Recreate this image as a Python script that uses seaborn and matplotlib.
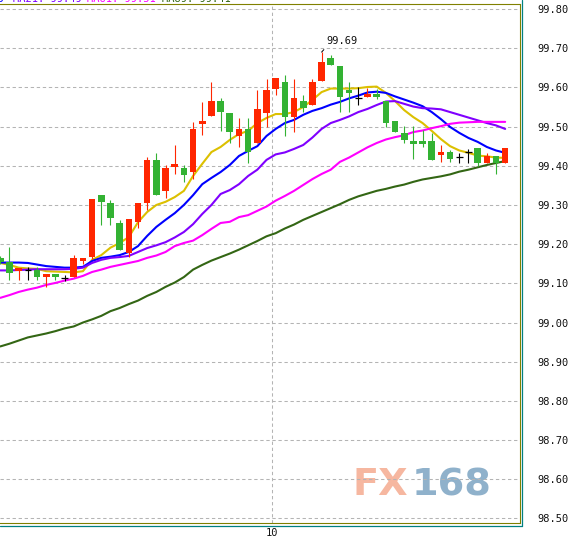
import numpy as np
import pandas as pd
import matplotlib
matplotlib.use("Agg")
import matplotlib.pyplot as plt
from matplotlib.lines import Line2D
import seaborn as sns

# ---------------------------------------------------------------- candles
opens = [99.165, 99.155, 99.132, 99.134, 99.134, 99.117, 99.124, 99.114, 99.117, 99.158,
         99.168, 99.325, 99.304, 99.254, 99.177, 99.257, 99.306, 99.415, 99.336, 99.398,
         99.394, 99.384, 99.507, 99.528, 99.565, 99.535, 99.477, 99.494, 99.457, 99.534,
         99.597, 99.614, 99.525, 99.566, 99.555, 99.617, 99.675, 99.655, 99.593, 99.574,
         99.576, 99.583, 99.566, 99.514, 99.483, 99.463, 99.463, 99.463, 99.428, 99.435,
         99.423, 99.434, 99.445, 99.408, 99.425, 99.408]
highs = [99.170, 99.193, 99.140, 99.141, 99.141, 99.124, 99.124, 99.120, 99.172, 99.165,
         99.315, 99.325, 99.313, 99.262, 99.264, 99.304, 99.422, 99.432, 99.401, 99.453,
         99.401, 99.512, 99.563, 99.614, 99.573, 99.535, 99.522, 99.522, 99.593, 99.621,
         99.624, 99.632, 99.621, 99.581, 99.621, 99.690, 99.683, 99.655, 99.614, 99.602,
         99.598, 99.596, 99.566, 99.514, 99.501, 99.501, 99.491, 99.483, 99.453, 99.440,
         99.432, 99.442, 99.445, 99.433, 99.425, 99.445]
lows = [99.150, 99.108, 99.108, 99.108, 99.108, 99.090, 99.108, 99.107, 99.117, 99.149,
        99.161, 99.249, 99.249, 99.185, 99.168, 99.240, 99.287, 99.325, 99.318, 99.379,
        99.359, 99.367, 99.478, 99.528, 99.489, 99.459, 99.448, 99.408, 99.457, 99.498,
        99.580, 99.477, 99.487, 99.536, 99.555, 99.617, 99.658, 99.538, 99.538, 99.555,
        99.576, 99.570, 99.500, 99.487, 99.457, 99.417, 99.449, 99.415, 99.410, 99.410,
        99.406, 99.406, 99.399, 99.408, 99.379, 99.408]
closes = [99.155, 99.127, 99.140, 99.134, 99.117, 99.124, 99.116, 99.114, 99.165, 99.165,
          99.315, 99.308, 99.267, 99.185, 99.264, 99.304, 99.415, 99.325, 99.394, 99.404,
          99.377, 99.494, 99.514, 99.565, 99.538, 99.487, 99.494, 99.436, 99.545, 99.593,
          99.624, 99.525, 99.573, 99.548, 99.614, 99.665, 99.658, 99.576, 99.586, 99.574,
          99.583, 99.576, 99.508, 99.487, 99.466, 99.456, 99.456, 99.415, 99.435, 99.417,
          99.423, 99.434, 99.408, 99.425, 99.408, 99.445]

# -------------------------------------------------------- moving averages
ma5 = [99.152, 99.147, 99.140, 99.138, 99.137, 99.131, 99.130, 99.129, 99.128, 99.131,
       99.160, 99.172, 99.191, 99.203, 99.218, 99.256, 99.282, 99.300, 99.308, 99.320,
       99.336, 99.374, 99.405, 99.435, 99.448, 99.466, 99.481, 99.489, 99.509, 99.522,
       99.532, 99.532, 99.537, 99.550, 99.568, 99.588, 99.597, 99.597, 99.597, 99.598,
       99.601, 99.602, 99.586, 99.565, 99.542, 99.524, 99.509, 99.489, 99.468, 99.450,
       99.439, 99.433, 99.426, 99.424, 99.421, 99.420]
ma10 = [99.153, 99.153, 99.153, 99.152, 99.148, 99.144, 99.142, 99.140, 99.140, 99.142,
        99.157, 99.165, 99.168, 99.172, 99.180, 99.195, 99.221, 99.244, 99.262, 99.279,
        99.300, 99.325, 99.353, 99.369, 99.384, 99.402, 99.425, 99.438, 99.450, 99.476,
        99.494, 99.509, 99.517, 99.530, 99.540, 99.547, 99.556, 99.563, 99.572, 99.579,
        99.587, 99.589, 99.586, 99.577, 99.569, 99.561, 99.552, 99.537, 99.519, 99.499,
        99.484, 99.471, 99.461, 99.448, 99.439, 99.433]
ma21 = [99.133, 99.133, 99.134, 99.135, 99.136, 99.136, 99.136, 99.136, 99.137, 99.140,
        99.152, 99.160, 99.165, 99.167, 99.170, 99.180, 99.190, 99.197, 99.205, 99.217,
        99.231, 99.251, 99.277, 99.300, 99.328, 99.338, 99.353, 99.374, 99.390, 99.415,
        99.429, 99.434, 99.443, 99.453, 99.472, 99.494, 99.509, 99.517, 99.526, 99.537,
        99.545, 99.555, 99.564, 99.565, 99.558, 99.551, 99.547, 99.546, 99.544, 99.537,
        99.530, 99.523, 99.516, 99.509, 99.503, 99.494]
ma61 = [99.063, 99.070, 99.078, 99.084, 99.089, 99.096, 99.101, 99.107, 99.112, 99.119,
        99.129, 99.135, 99.142, 99.147, 99.152, 99.157, 99.165, 99.171, 99.180, 99.195,
        99.203, 99.209, 99.223, 99.239, 99.254, 99.257, 99.269, 99.274, 99.285, 99.296,
        99.311, 99.323, 99.336, 99.351, 99.366, 99.379, 99.390, 99.410, 99.421, 99.434,
        99.447, 99.458, 99.467, 99.473, 99.478, 99.486, 99.490, 99.496, 99.501, 99.507,
        99.510, 99.511, 99.512, 99.512, 99.512, 99.512]
ma89 = [98.939, 98.946, 98.954, 98.962, 98.967, 98.972, 98.978, 98.985, 98.990, 99.000,
        99.008, 99.017, 99.029, 99.037, 99.047, 99.056, 99.068, 99.078, 99.091, 99.102,
        99.116, 99.135, 99.147, 99.158, 99.167, 99.176, 99.186, 99.197, 99.208, 99.220,
        99.228, 99.240, 99.250, 99.262, 99.272, 99.282, 99.292, 99.302, 99.313, 99.322,
        99.329, 99.336, 99.341, 99.347, 99.352, 99.359, 99.365, 99.369, 99.373, 99.378,
        99.385, 99.390, 99.396, 99.402, 99.407, 99.412]

ma_names = ["MA5", "MA10", "MA21", "MA61", "MA89"]
ma_colors = {"MA5": "#dcc000", "MA10": "#0000ff", "MA21": "#8000ff",
             "MA61": "#ff00ff", "MA89": "#336614"}

y_ticks = [98.50, 98.60, 98.70, 98.80, 98.90, 99.00, 99.10,
           99.20, 99.30, 99.40, 99.50, 99.60, 99.70, 99.80]
x_tick_labels = ["10"]

# header readouts (only their lower part shows above the frame)
header_items = [("MA10: 99.43", "#0000ff"), ("MA21: 99.49", "#8000ff"),
                ("MA61: 99.51", "#ff00ff"), ("MA89: 99.41", "#336614")]

UP, DOWN, FLAT = "#ff2600", "#33b233", "#000000"

# ------------------------------------------------------------------ style
sns.set_style("white")
plt.rcParams["font.family"] = ["DejaVu Sans Mono", "DejaVu Sans"]

W, H = 574, 537
fig = plt.figure(figsize=(W / 100, H / 100), dpi=100, facecolor="white")
ax = fig.add_axes([0, 13.7 / H, 519.5 / W, 519.0 / H])
ax.set_facecolor("white")

n = len(closes)
idx = np.arange(n)

# moving-average lines
ma_df = pd.DataFrame({"idx": idx, "MA5": ma5, "MA10": ma10, "MA21": ma21,
                      "MA61": ma61, "MA89": ma89})
ma_long = ma_df.melt("idx", var_name="ma", value_name="price")
sns.lineplot(data=ma_long, x="idx", y="price", hue="ma", hue_order=ma_names,
             palette=ma_colors, linewidth=1.5, legend=False, ax=ax, zorder=2)

# candlesticks
o = np.array(opens); c = np.array(closes)
h = np.array(highs); l = np.array(lows)
cols = np.where(c > o, UP, np.where(c < o, DOWN, FLAT))
ax.vlines(idx, l, h, colors=cols, linewidth=0.8, zorder=3)
body = c != o
ax.bar(idx[body], np.abs(c - o)[body], bottom=np.minimum(o, c)[body],
       width=0.72, color=cols[body], linewidth=0, zorder=4)
ax.hlines(c[~body], idx[~body] - 0.36, idx[~body] + 0.36,
          colors=FLAT, linewidth=0.9, zorder=4)

# peak readout
pk = int(np.argmax(h))
ax.annotate(f"{h[pk]:.2f}", xy=(pk, h[pk]), xytext=(3.8, 5.6),
            textcoords="offset points", ha="left", va="baseline",
            fontsize=7.5, color="#101010", zorder=6,
            arrowprops=dict(arrowstyle="-", color="black", lw=0.7,
                            shrinkA=0, shrinkB=0, relpos=(0, 0)))

# axes limits, ticks and grid
ax.set_xlim(-0.033, 56.56)
ax.set_ylim(98.4877, 99.812)
ax.set_xticks([29.63])
ax.set_xticklabels(x_tick_labels)
ax.set_yticks(y_ticks)
ax.set_yticklabels([f"{v:.2f}" for v in y_ticks])
ax.yaxis.tick_right()
ax.tick_params(axis="y", length=0, pad=13, labelsize=7.5, labelcolor="#111111")
ax.tick_params(axis="x", length=0, pad=3.2, labelsize=7.5, labelcolor="#111111")
ax.set_xlabel("")
ax.set_ylabel("")
ax.set_axisbelow(True)
ax.grid(True, color="#b4b4b4", linestyle=(0, (3.2, 2.6)), linewidth=0.75, zorder=0.5)

for side in ("top", "right", "bottom"):
    ax.spines[side].set_visible(True)
    ax.spines[side].set_color("#808000")
    ax.spines[side].set_linewidth(0.8)
ax.spines["left"].set_visible(False)

# outer frame
xr = 521.7 / W
yb = (H - 525.8) / H
fig.add_artist(Line2D([xr, xr], [yb, 1.0], color="#008080", lw=0.9))
fig.add_artist(Line2D([0, xr], [yb, yb], color="#008080", lw=0.9))

# watermark
wm_y = (523.3 - 495) / 519.0
ax.text(408 / 519.5, wm_y, "FX", transform=ax.transAxes, ha="right", va="baseline",
        fontsize=27.5, fontweight="bold", family="DejaVu Sans", color="#f6b7a0", zorder=0.3)
ax.text(411.5 / 519.5, wm_y, "168", transform=ax.transAxes, ha="left", va="baseline",
        fontsize=27.5, fontweight="bold", family="DejaVu Sans", color="#8fb1cb", zorder=0.3)

# header readouts along the top edge
base_y = (H - 2.4) / H
hx = [4, 13, 87, 162]
for (txt, col), px in zip(header_items, hx):
    fig.text(px / W, base_y, txt, color=col, fontsize=7.5, va="baseline",
             ha="right" if px < 10 else "left")

fig.savefig("out.png", dpi=100, facecolor="white")
